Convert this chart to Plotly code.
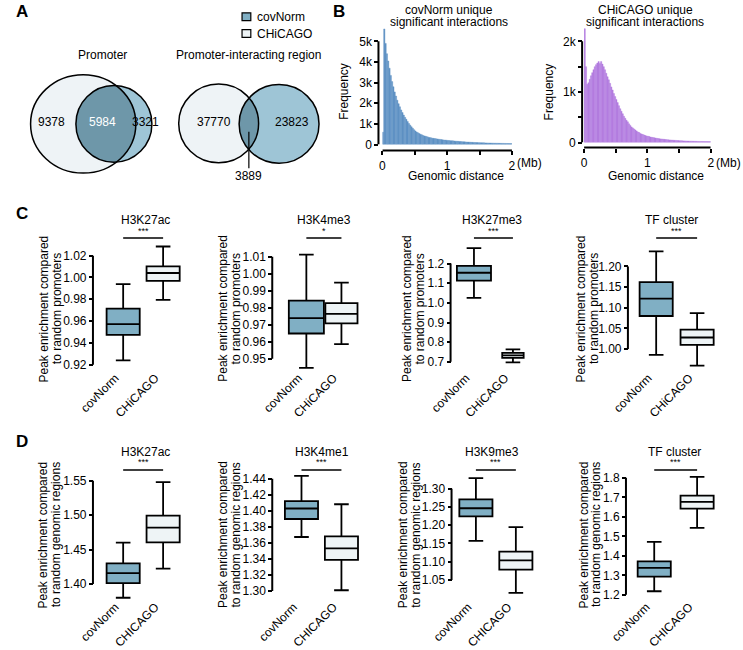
import numpy as np
import plotly.graph_objects as go

W, H = 743, 650
FONT = "Liberation Sans, Arial, Helvetica, sans-serif"

# ---------------- data ----------------
venn_series = ["covNorm", "CHiCAGO"]
venn_titles = ["Promoter", "Promoter-interacting region"]
promoter_counts = [9378, 5984, 3321]      # CHiCAGO only, shared, covNorm only
pir_counts = [37770, 3889, 23823]         # CHiCAGO only, shared, covNorm only

hist_titles = [["covNorm unique", "significant interactions"],
               ["CHiCAGO unique", "significant interactions"]]
hist_bin_mb = 0.02
covnorm_hist_k = [0.6, 5.6, 4.9, 4.4, 4.05, 3.7, 3.35, 3.05, 2.8, 2.55,
                  2.35, 2.15, 1.98, 1.83, 1.68, 1.55, 1.43, 1.32, 1.22, 1.12,
                  1.02, 0.94, 0.86, 0.79, 0.72, 0.66, 0.61, 0.57, 0.53, 0.5,
                  0.47, 0.44, 0.42, 0.4, 0.38, 0.36, 0.34, 0.33, 0.31, 0.3,
                  0.29, 0.28, 0.27, 0.26, 0.25, 0.24, 0.23, 0.22, 0.215, 0.21,
                  0.2, 0.195, 0.19, 0.185, 0.18, 0.172, 0.165, 0.16, 0.155, 0.15,
                  0.145, 0.14, 0.135, 0.13, 0.125, 0.12, 0.118, 0.115, 0.11, 0.107,
                  0.104, 0.1, 0.097, 0.094, 0.092, 0.09, 0.087, 0.085, 0.083, 0.08,
                  0.078, 0.076, 0.074, 0.072, 0.07, 0.068, 0.066, 0.065, 0.063, 0.062,
                  0.06, 0.058, 0.057, 0.056, 0.055, 0.053, 0.052, 0.051, 0.05, 0.05]
chicago_hist_k = [2.25, 1.5, 1.15, 1.18, 1.25, 1.32, 1.38, 1.44, 1.5, 1.54,
                  1.57, 1.6, 1.56, 1.6, 1.55, 1.5, 1.44, 1.37, 1.3, 1.24,
                  1.17, 1.1, 1.04, 0.97, 0.91, 0.85, 0.79, 0.73, 0.67, 0.62,
                  0.57, 0.52, 0.48, 0.44, 0.41, 0.37, 0.34, 0.31, 0.29, 0.27,
                  0.25, 0.23, 0.21, 0.2, 0.18, 0.17, 0.16, 0.15, 0.14, 0.13,
                  0.125, 0.12, 0.11, 0.105, 0.1, 0.095, 0.09, 0.085, 0.08, 0.077,
                  0.073, 0.07, 0.067, 0.064, 0.061, 0.058, 0.055, 0.053, 0.051, 0.049,
                  0.047, 0.045, 0.043, 0.041, 0.04, 0.038, 0.037, 0.035, 0.034, 0.033,
                  0.032, 0.031, 0.03, 0.029, 0.028, 0.027, 0.026, 0.025, 0.025, 0.024,
                  0.023, 0.023, 0.022, 0.022, 0.021, 0.021, 0.02, 0.02, 0.02, 0.02]
hist1_ticks = [0, 1, 2, 3, 4, 5]
hist1_ticktext = ["0", "1k", "2k", "3k", "4k", "5k"]
hist2_ticks = [0, 0.5, 1, 1.5, 2]
hist2_ticktext = ["0", "", "1k", "", "2k"]
dist_ticks = [0, 0.5, 1, 1.5, 2]
dist_ticktext = ["0", "", "1", "", "2"]

groups_c = ["covNorm", "CHiCAGO"]
groups_d = ["covNorm", "CHICAGO"]

c_titles = ["H3K27ac", "H3K4me3", "H3K27me3", "TF cluster"]
c_sig = ["***", "*", "***", "***"]
c_lower = [[0.924, 0.9795], [0.9447, 0.9587], [1.025, 0.697], [0.986, 0.960]]
c_q1 = [[0.9474, 0.9969], [0.9649, 0.9708], [1.113, 0.720], [1.080, 1.010]]
c_median = [[0.9573, 1.0041], [0.9739, 0.9764], [1.153, 0.733], [1.122, 1.028]]
c_q3 = [[0.9714, 1.0101], [0.9842, 0.9827], [1.188, 0.745], [1.162, 1.047]]
c_upper = [[0.994, 1.0284], [1.0112, 0.9948], [1.278, 0.763], [1.2365, 1.087]]
c_ticks = [[0.92, 0.94, 0.96, 0.98, 1.00, 1.02],
           [0.95, 0.96, 0.97, 0.98, 0.99, 1.00, 1.01],
           [0.7, 0.8, 0.9, 1.0, 1.1, 1.2],
           [1.00, 1.05, 1.10, 1.15, 1.20]]
c_ylabel = ["Peak enrichment compared", "to random promoters"]

d_titles = ["H3K27ac", "H3K4me1", "H3K9me3", "TF cluster"]
d_sig = ["***", "***", "***", "***"]
d_lower = [[1.38, 1.4224], [1.3673, 1.3008], [1.1571, 1.0152], [1.2183, 1.5433]]
d_q1 = [[1.4014, 1.4605], [1.3898, 1.3388], [1.2241, 1.0786], [1.2933, 1.6417]]
d_median = [[1.4157, 1.482], [1.4029, 1.3531], [1.2464, 1.1036], [1.3383, 1.6767]]
d_q3 = [[1.43, 1.4995], [1.4122, 1.3682], [1.2705, 1.1277], [1.3717, 1.7083]]
d_upper = [[1.46, 1.548], [1.4437, 1.4082], [1.3286, 1.1946], [1.4717, 1.805]]
d_ticks = [[1.40, 1.45, 1.50, 1.55],
           [1.30, 1.32, 1.34, 1.36, 1.38, 1.40, 1.42, 1.44],
           [1.05, 1.10, 1.15, 1.20, 1.25, 1.30],
           [1.2, 1.3, 1.4, 1.5, 1.6, 1.7, 1.8]]
d_ylabel = ["Peak enrichment compared", "to random genomic regions"]

# ---------------- styles / layout geometry (pixels) ----------------
COV_BOX = "#80afc4"
CHI_BOX = "#eef4f6"
COV_HIST = "#5f92c4"
CHI_HIST = "#b47ee0"
V_CHI = "#eef3f6"
V_COV = "#9ec5d6"
V_BOTH = "#6e97a9"

c_geom = [dict(axis=80, p_lo=368, p_hi=257, c0=111, c1=152, w=(34, 34), title_x=134, ylab_x=36, fmt=".2f"),
          dict(axis=264, p_lo=362, p_hi=258, c0=299, c1=335, w=(36, 33), title_x=317, ylab_x=220, fmt=".2f"),
          dict(axis=447, p_lo=365, p_hi=265, c0=471, c1=511, w=(35, 22), title_x=490, ylab_x=409, fmt=".1f"),
          dict(axis=629, p_lo=352, p_hi=268, c0=658, c1=700, w=(34, 34), title_x=674, ylab_x=587, fmt=".2f")]
d_geom = [dict(axis=80, p_lo=591, p_hi=486, c0=111, c1=152, w=(34, 34), title_x=134, ylab_x=35, fmt=".2f"),
          dict(axis=264, p_lo=598, p_hi=484, c0=294, c1=335, w=(34, 34), title_x=315, ylab_x=220, fmt=".2f"),
          dict(axis=448, p_lo=587, p_hi=494, c0=473, c1=514, w=(34, 34), title_x=490, ylab_x=405, fmt=".2f"),
          dict(axis=627, p_lo=602, p_hi=483, c0=656, c1=700, w=(34, 34), title_x=677, ylab_x=590, fmt=".1f")]
LABEL_SHIFT = 8  # px: rotated category labels end slightly left of the box centre


def X(px):
    return px / W


def Y(py):
    return 1 - py / H


fig = go.Figure()
shapes = []
annotations = []
axes = {}


def ann(text, px, py, size=12, color="black", xanchor="center", yanchor="middle", angle=0):
    annotations.append(dict(text=text, x=X(px), y=Y(py), xref="paper", yref="paper",
                            showarrow=False, xanchor=xanchor, yanchor=yanchor, textangle=angle,
                            borderpad=0, font=dict(size=size, color=color, family=FONT)))


def line(x0, y0, x1, y1, width=2, xref="paper", yref="paper"):
    shapes.append(dict(type="line", xref=xref, yref=yref, x0=x0, y0=y0, x1=x1, y1=y1,
                       line=dict(color="black", width=width), layer="above"))


# ---------------- panel labels ----------------
ann("<b>A</b>", 7, 9, size=17)
ann("<b>B</b>", 332, 9, size=17)
ann("<b>C</b>", 7, 214, size=17)
ann("<b>D</b>", 7, 446, size=17)

# ---------------- A: Venn diagrams ----------------
def ellipse(c, fill, lw):
    cx, cy, rx, ry = c
    shapes.append(dict(type="circle", xref="paper", yref="paper",
                       x0=X(cx - rx), x1=X(cx + rx), y0=Y(cy + ry), y1=Y(cy - ry),
                       fillcolor=fill, line=dict(width=lw, color="black"), layer="above"))


def lens(c1, c2, fill):
    def inside(px, py, c):
        return ((px - c[0]) / c[2]) ** 2 + ((py - c[1]) / c[3]) ** 2 <= 1
    t2 = np.linspace(0.5 * np.pi, 1.5 * np.pi, 721)
    x2 = c2[0] + c2[2] * np.cos(t2)
    y2 = c2[1] + c2[3] * np.sin(t2)
    m2 = inside(x2, y2, c1)
    t1 = np.linspace(-0.5 * np.pi, 0.5 * np.pi, 721)
    x1 = c1[0] + c1[2] * np.cos(t1)
    y1 = c1[1] + c1[3] * np.sin(t1)
    m1 = inside(x1, y1, c2)
    xs = np.concatenate([x2[m2], x1[m1]])
    ys = np.concatenate([y2[m2], y1[m1]])
    path = "M " + " L ".join(f"{X(a):.5f},{Y(b):.5f}" for a, b in zip(xs, ys)) + " Z"
    shapes.append(dict(type="path", xref="paper", yref="paper", path=path,
                       fillcolor=fill, line=dict(width=0), layer="above"))


venn1_chi = (70, 123, 54, 50)
venn1_cov = (101.5, 123, 39, 39)
venn2_chi = (209, 122.5, 41, 40)
venn2_cov = (271, 123, 41, 40)

for chi, cov in [(venn1_chi, venn1_cov), (venn2_chi, venn2_cov)]:
    ellipse(chi, V_CHI, 0)
    ellipse(cov, V_COV, 0)
    lens(chi, cov, V_BOTH)
    ellipse(chi, "rgba(0,0,0,0)", 1.5)
    ellipse(cov, "rgba(0,0,0,0)", 1.5)

ann(venn_titles[0], 90, 53, size=12)
ann(venn_titles[1], 240, 53, size=12)
ann(str(promoter_counts[0]), 37, 121)
ann(str(promoter_counts[1]), 90, 121, color="white")
ann(str(promoter_counts[2]), 134, 121)
ann(str(pir_counts[0]), 204, 121)
ann(str(pir_counts[2]), 284, 121)
line(X(240), Y(131), X(240), Y(168), width=1.2)
ann(str(pir_counts[1]), 240, 176)

# legend
for i, (name, col) in enumerate(zip(venn_series, [COV_BOX, CHI_BOX])):
    y0 = 10 + 17 * i
    shapes.append(dict(type="rect", xref="paper", yref="paper", x0=X(233), x1=X(242),
                       y0=Y(y0 + 8), y1=Y(y0), fillcolor=col,
                       line=dict(color="black", width=1.2), layer="above"))
    ann(name, 247, y0 + 4.5, xanchor="left")

# ---------------- B: histograms ----------------
centers = [(i + 0.5) * hist_bin_mb for i in range(len(covnorm_hist_k))]

hist_specs = [
    dict(vals=covnorm_hist_k, color=COV_HIST, xl=377, xr=510, y0p=144, kpx=21.0, ytop=5.8,
         yaxis_x=373, xaxis_y=150, yline=5, ticks=hist1_ticks, ticktext=hist1_ticktext,
         title_x=445, freq_x=338, gd_x=453),
    dict(vals=chicago_hist_k, color=CHI_HIST, xl=584, xr=714, y0p=142, kpx=51.5, ytop=2.35,
         yaxis_x=582, xaxis_y=147, yline=2, ticks=hist2_ticks, ticktext=hist2_ticktext,
         title_x=647, freq_x=549, gd_x=658),
]
for k, (sp, titles) in enumerate(zip(hist_specs, hist_titles)):
    n = k + 1
    xn = "x" if n == 1 else f"x{n}"
    yn = "y" if n == 1 else f"y{n}"
    fig.add_trace(go.Bar(x=centers, y=sp["vals"], width=hist_bin_mb, xaxis=xn, yaxis=yn,
                         marker=dict(color=sp["color"], line=dict(color=sp["color"], width=0.4)),
                         hoverinfo="skip", showlegend=False))
    axes["xaxis" if n == 1 else f"xaxis{n}"] = dict(
        domain=[X(sp["xl"]), X(sp["xr"])], range=[0, 2], anchor="free", position=Y(sp["xaxis_y"]),
        tickvals=dist_ticks, ticktext=dist_ticktext, ticks="outside", ticklen=4, tickwidth=2,
        tickcolor="black", showline=False, showgrid=False, zeroline=False,
        tickfont=dict(size=12, family=FONT, color="black"), fixedrange=True)
    axes["yaxis" if n == 1 else f"yaxis{n}"] = dict(
        domain=[Y(sp["y0p"]), Y(sp["y0p"] - sp["ytop"] * sp["kpx"])], range=[0, sp["ytop"]],
        anchor="free", position=X(sp["yaxis_x"]),
        tickvals=sp["ticks"], ticktext=sp["ticktext"], ticks="outside", ticklen=4, tickwidth=2,
        tickcolor="black", showline=False, showgrid=False, zeroline=False,
        tickfont=dict(size=12, family=FONT, color="black"), fixedrange=True)
    line(X(sp["yaxis_x"]), 0, X(sp["yaxis_x"]), sp["yline"], width=2, xref="paper", yref=yn)
    line(0, Y(sp["xaxis_y"]), 2, Y(sp["xaxis_y"]), width=2, xref=xn, yref="paper")
    ann(titles[0], sp["title_x"], 7)
    ann(titles[1], sp["title_x"], 19.5)
    ann("Frequency", sp["freq_x"], 90, angle=-90)
    ann("Genomic distance", sp["gd_x"], 175.5)
    ann("(Mb)", sp["xr"] + 4, 163, xanchor="left")

# ---------------- C & D: box plots ----------------
panel_no = 3
rows = [
    (c_geom, c_titles, c_sig, c_lower, c_q1, c_median, c_q3, c_upper, c_ticks, groups_c, c_ylabel,
     221, 232, 239, 371, 311),
    (d_geom, d_titles, d_sig, d_lower, d_q1, d_median, d_q3, d_upper, d_ticks, groups_d, d_ylabel,
     457, 467, 475, 604, 541),
]
for (geom, titles, sigs, lows, q1s, meds, q3s, ups, tickss, groups, ylabel,
     title_y, star_y, sig_y, label_y, ylab_y) in rows:
    for j in range(4):
        g = geom[j]
        ticks = tickss[j]
        t_lo, t_hi = ticks[0], ticks[-1]
        s = (g["p_lo"] - g["p_hi"]) / (t_hi - t_lo)
        lo = min(min(lows[j]), t_lo)
        hi = max(max(ups[j]), t_hi)
        pad = 0.03 * (hi - lo)
        r0, r1 = lo - pad, hi + pad

        def pix(v):
            return g["p_lo"] - (v - t_lo) * s

        unit = g["c1"] - g["c0"]
        xr = [-0.85, 1.85]
        sh = LABEL_SHIFT / unit
        xn, yn = f"x{panel_no}", f"y{panel_no}"
        axes[f"xaxis{panel_no}"] = dict(
            domain=[X(g["c0"] + xr[0] * unit), X(g["c0"] + xr[1] * unit)], range=xr,
            anchor="free", position=Y(label_y), tickvals=[0 - sh, 1 - sh], ticktext=groups,
            tickangle=-45, ticks="", showline=False, showgrid=False, zeroline=False,
            tickfont=dict(size=12, family=FONT, color="black"), fixedrange=True)
        axes[f"yaxis{panel_no}"] = dict(
            domain=[Y(pix(r0)), Y(pix(r1))], range=[r0, r1], anchor="free", position=X(g["axis"]),
            tickvals=ticks, tickformat=g["fmt"], ticks="outside", ticklen=4, tickwidth=2,
            tickcolor="black", showline=False, showgrid=False, zeroline=False,
            tickfont=dict(size=12, family=FONT, color="black"), fixedrange=True)
        for i, col in enumerate([COV_BOX, CHI_BOX]):
            fig.add_trace(go.Box(x=[i], q1=[q1s[j][i]], median=[meds[j][i]], q3=[q3s[j][i]],
                                 lowerfence=[lows[j][i]], upperfence=[ups[j][i]],
                                 width=g["w"][i] / unit, whiskerwidth=min(0.95, 15.0 / g["w"][i]),
                                 fillcolor=col, line=dict(color="black", width=1.8),
                                 xaxis=xn, yaxis=yn, hoverinfo="skip", showlegend=False))
        line(X(g["axis"]), t_lo, X(g["axis"]), t_hi, width=2, xref="paper", yref=yn)
        line(X(g["c0"]), Y(sig_y), X(g["c1"]), Y(sig_y), width=1.5)
        ann(sigs[j], (g["c0"] + g["c1"]) / 2, star_y, size=9)
        ann(titles[j], g["title_x"], title_y)
        ann(ylabel[0], g["ylab_x"] - 6.5, ylab_y, angle=-90)
        ann(ylabel[1], g["ylab_x"] + 6.5, ylab_y, angle=-90)
        panel_no += 1

fig.update_layout(
    width=W, height=H, margin=dict(l=0, r=0, t=0, b=0),
    paper_bgcolor="white", plot_bgcolor="rgba(0,0,0,0)",
    showlegend=False, bargap=0, boxmode="overlay",
    font=dict(family=FONT, size=12, color="black"),
    shapes=shapes, annotations=annotations, **axes)

fig.write_html("out.html", config={"displayModeBar": False, "staticPlot": True})

# remove the browser's default page margin so the figure sits at the window's top-left corner
with open("out.html", encoding="utf-8") as f:
    html = f.read()
html = html.replace("<head>", "<head><style>html,body{margin:0;padding:0;overflow:hidden;}</style>", 1)
with open("out.html", "w", encoding="utf-8") as f:
    f.write(html)
